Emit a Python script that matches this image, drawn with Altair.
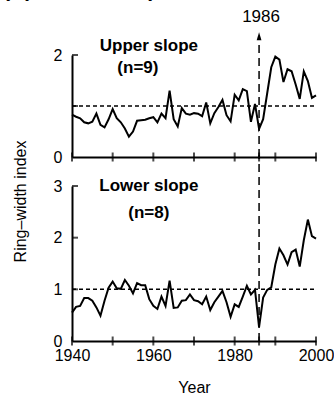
import altair as alt
import pandas as pd

years = list(range(1940, 2001))
upper_slope = [
    0.83, 0.79, 0.76, 0.68, 0.66, 0.69, 0.85, 0.63, 0.58, 0.74,
    0.94, 0.76, 0.68, 0.56, 0.40, 0.50, 0.71, 0.72, 0.73, 0.76,
    0.78, 0.68, 0.85, 0.76, 1.30, 0.74, 0.60, 0.96, 0.85, 0.83,
    0.86, 0.85, 0.80, 1.07, 0.66, 0.86, 0.98, 1.12, 0.82, 0.70,
    1.22, 1.11, 1.33, 1.29, 0.69, 1.04, 0.55, 0.74, 1.25, 1.76,
    1.97, 1.91, 1.47, 1.72, 1.68, 1.42, 1.14, 1.68, 1.49, 1.16,
    1.21,
]
lower_slope = [
    0.55, 0.66, 0.68, 0.83, 0.83, 0.78, 0.65, 0.49, 0.78, 1.03,
    1.15, 1.02, 1.01, 1.18, 1.07, 0.92, 1.12, 1.08, 1.08, 0.81,
    0.68, 0.62, 0.86, 0.68, 1.17, 0.64, 0.65, 0.78, 0.79, 0.90,
    0.79, 0.77, 0.71, 0.86, 0.60, 0.75, 0.86, 0.97, 0.75, 0.47,
    0.71, 0.66, 0.86, 1.07, 0.90, 0.99, 0.27, 0.84, 0.99, 1.04,
    1.48, 1.79, 1.66, 1.48, 1.72, 1.77, 1.44, 1.95, 2.35, 2.03,
    1.98,
]
event_year = 1986
x_tick_years = [1940, 1950, 1960, 1970, 1980, 1986, 1990, 2000]
x_label_years = [1940, 1960, 1980, 2000]
upper_y_labels = [0, 1, 2]
lower_y_labels = [0, 1, 2, 3]
upper_y_ticks = [1, 2]
lower_y_ticks = [1, 2, 3]

FONT = "Liberation Sans"

df = pd.DataFrame({"year": years, "upper": upper_slope, "lower": lower_slope})

xscale = alt.Scale(domain=[1940, 2000], nice=False, zero=False)
uscale = alt.Scale(domain=[0, 2], nice=False, zero=False)
lscale = alt.Scale(domain=[0, 3], nice=False, zero=False)

x_axis_upper = alt.Axis(labels=False, ticks=False, tickSize=0, title=None, grid=False)
x_axis_lower = alt.Axis(values=x_label_years, format="d", labelFlush=False, labelFontSize=16,
                        labelPadding=6, ticks=False, tickSize=0, grid=False, title="Year",
                        titleFontSize=16, titleFontWeight="normal", titleY=51,
                        titleBaseline="alphabetic")
y_axis_upper = alt.Axis(values=upper_y_labels, format="d", labelFontSize=16, labelPadding=10,
                        ticks=False, tickSize=0, grid=False, title="Ring\u2013width index",
                        titleFontSize=16, titleFontWeight="normal", titleAngle=270, titleX=-52,
                        titleY=146, titleAlign="center", titleBaseline="middle")
y_axis_lower = alt.Axis(values=lower_y_labels, format="d", labelFontSize=16, labelPadding=10,
                        ticks=False, tickSize=0, grid=False, title=None)


def panel(field, yscale, xaxis, yaxis, yticks, rule_top, labels):
    X = lambda f: alt.X(f, type="quantitative", scale=xscale, axis=xaxis)
    Y = lambda f: alt.Y(f, type="quantitative", scale=yscale, axis=yaxis)
    line = alt.Chart(df).mark_line(color="black", strokeWidth=2).encode(x=X("year"), y=Y(field))
    ref = alt.Chart(pd.DataFrame({"year": [1940], "year2": [2000], "v": [1]})).mark_rule(
        color="black", strokeWidth=1.5, strokeDash=[4, 3]).encode(x=X("year"), x2="year2:Q", y=Y("v"))
    vrule = alt.Chart(pd.DataFrame({"year": [event_year], "v": [0], "v2": [rule_top]})).mark_rule(
        color="black", strokeWidth=1.5, strokeDash=[8, 5]).encode(x=X("year"), y=Y("v"), y2="v2:Q")
    xt = alt.Chart(pd.DataFrame({"year": x_tick_years, "v": [0] * len(x_tick_years)})).mark_tick(
        orient="vertical", size=9, thickness=2, color="black").encode(x=X("year"), y=Y("v"))
    yt = alt.Chart(pd.DataFrame({"year": [1940] * len(yticks), "v": yticks})).mark_tick(
        orient="horizontal", size=6, thickness=2, color="black", xOffset=3).encode(x=X("year"), y=Y("v"))
    layers = [ref, vrule, xt, yt, line]
    for (yr, v, txt, size, weight, align, dx) in labels:
        layers.append(
            alt.Chart(pd.DataFrame({"year": [yr], "v": [v], "t": [txt]})).mark_text(
                fontSize=size, fontWeight=weight, align=align, baseline="alphabetic", dx=dx,
                color="black", font=FONT).encode(x=X("year"), y=Y("v"), text="t:N")
        )
    return layers


upper_layers = panel("upper", uscale, x_axis_upper, y_axis_upper, upper_y_ticks, 2.37, [
    (1940, 3.14, "(A) Avalanche path", 21, "bold", "left", -69),
    (1986, 2.65, "1986", 17, "normal", "center", 2),
    (1958.9, 2.07, "Upper slope", 17, "bold", "center", 0),
    (1956.2, 1.65, "(n=9)", 17, "bold", "center", 0),
])
arrow = alt.Chart(pd.DataFrame({"year": [event_year], "v": [2.37]})).mark_point(
    shape="M0,-1L0.6,1L-0.6,1Z", filled=True, size=64, color="black", opacity=1).encode(
    x=alt.X("year:Q", scale=xscale, axis=x_axis_upper), y=alt.Y("v:Q", scale=uscale, axis=y_axis_upper))
upper = alt.layer(*upper_layers, arrow).properties(width=244, height=102)

lower_layers = panel("lower", lscale, x_axis_lower, y_axis_lower, lower_y_ticks, 3.6, [
    (1958.9, 2.90, "Lower slope", 17, "bold", "center", 0),
    (1958.9, 2.38, "(n=8)", 17, "bold", "center", 0),
])
lower = alt.layer(*lower_layers).properties(width=244, height=155)

chart = alt.vconcat(
    upper, lower, spacing=29, bounds="flush",
    padding={"left": 3, "top": -21, "right": 0, "bottom": 0},
).configure(font=FONT).configure_view(stroke=None).configure_axis(
    domainColor="black", domainWidth=2, labelColor="black", titleColor="black", labelFont=FONT,
    titleFont=FONT,
)

chart.save("out.html", embed_options={"renderer": "svg", "actions": False})
